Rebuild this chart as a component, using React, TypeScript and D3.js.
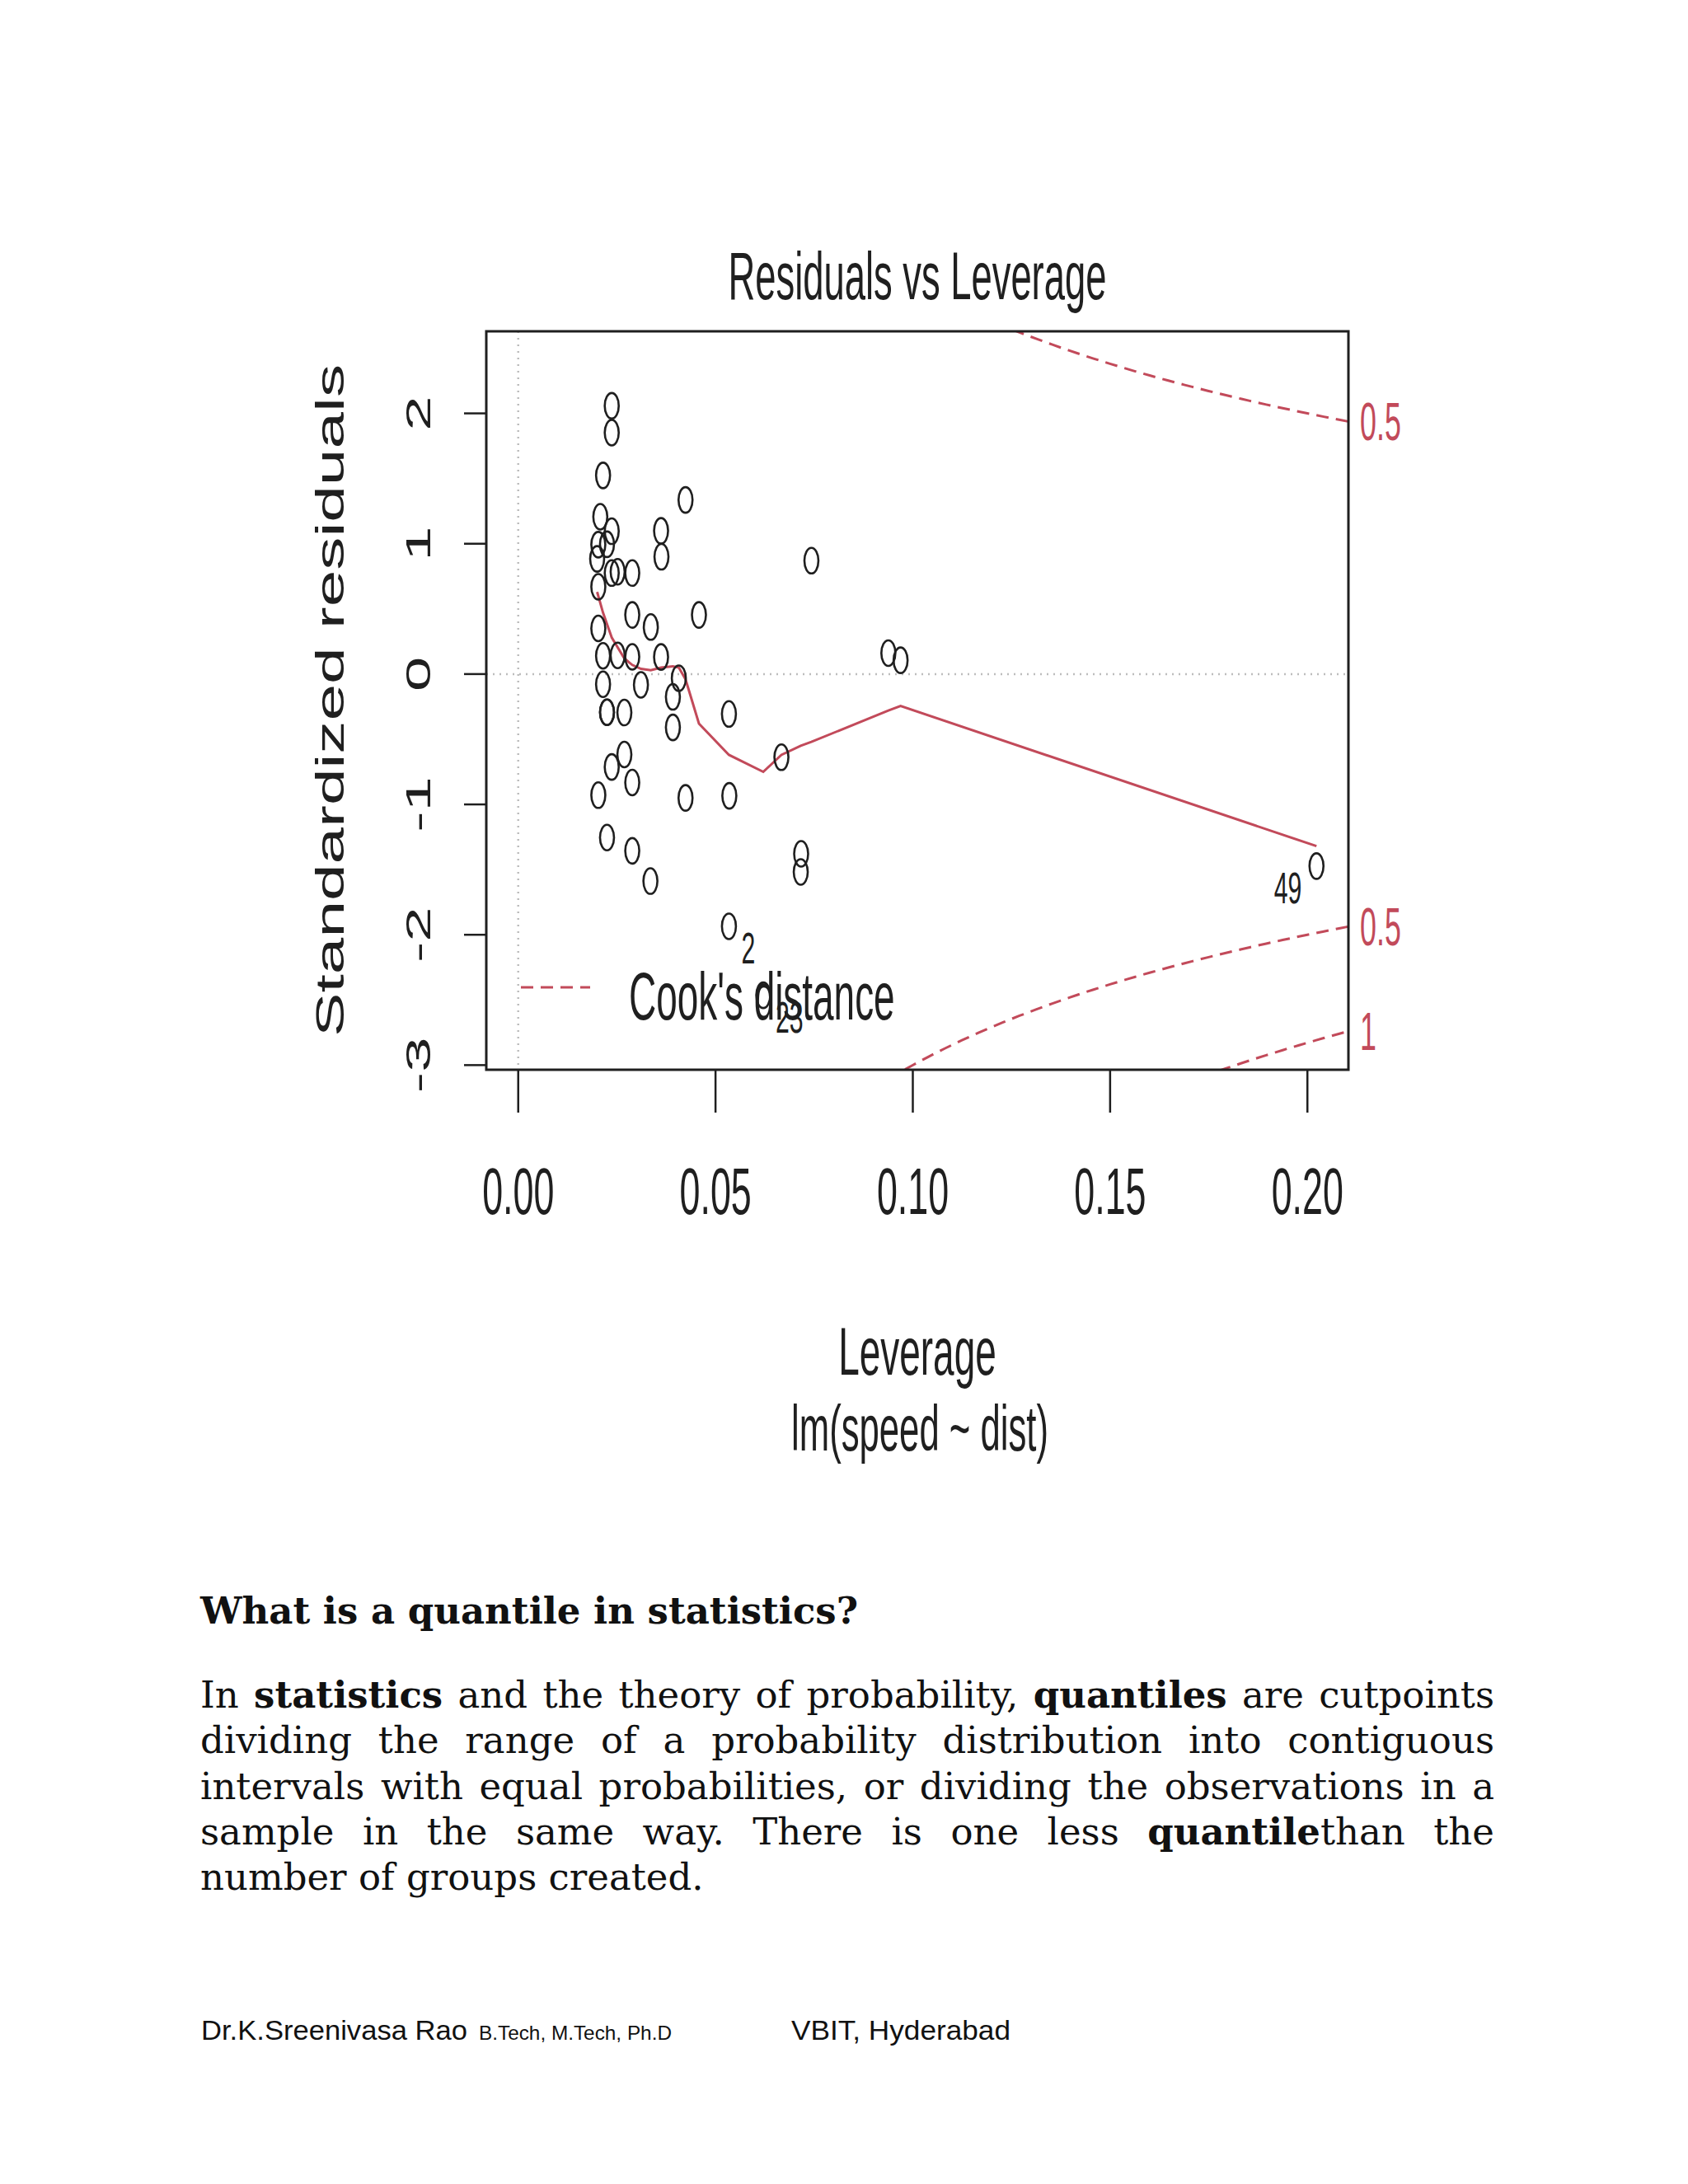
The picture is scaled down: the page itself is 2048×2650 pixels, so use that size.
import { useEffect, useRef } from "react";
import * as d3 from "d3";

// leverage (hat values) and standardized residuals, one entry per observation 1..50
const leverage = [
  0.0716, 0.0534, 0.0667, 0.0335, 0.0424, 0.0534, 0.0392, 0.0289, 0.0225, 0.0407,
  0.0269, 0.0458, 0.0362, 0.0311, 0.0269, 0.0289, 0.0225, 0.0225, 0.0203, 0.0289,
  0.0215, 0.0289, 0.0621, 0.0362, 0.0289, 0.0237, 0.0237, 0.0203, 0.0237, 0.0203,
  0.0215, 0.0200, 0.0252, 0.0535, 0.0717, 0.0215, 0.0203, 0.0392, 0.0237, 0.0208,
  0.0225, 0.0252, 0.0336, 0.0363, 0.0237, 0.0424, 0.0938, 0.0969, 0.2023, 0.0743,
];
const stdResid = [
  -1.518, -1.935, -0.638, -1.588, -0.95, -0.306, -0.409, -0.832, -1.254, -0.032,
  -0.617, 0.454, 0.131, -0.083, -0.295, 0.132, -0.293, -0.293, -0.929, 0.454,
  -0.078, -1.356, -2.464, 1.099, 0.775, -0.713, 0.775, 0.35, 1.096, 0.67,
  0.14, 0.884, 0.143, -0.934, -1.379, 1.524, 0.993, -0.175, 2.058, 1.207,
  0.996, 0.785, 0.361, 0.9, 1.852, 1.336, 0.161, 0.106, -1.473, 0.87,
];
const labelledIds = [49, 23, 2];

// red smoother
const smoothLeverage = [
  0.02, 0.0215, 0.0237, 0.0269, 0.0289, 0.0311, 0.0336, 0.0362, 0.0392, 0.0407,
  0.0424, 0.0458, 0.0534, 0.0621, 0.0667, 0.0716, 0.0743, 0.0938, 0.0969, 0.2023,
];
const smoothResid = [
  0.63, 0.47, 0.28, 0.12, 0.07, 0.04, 0.03, 0.05, 0.06, 0.05,
  -0.04, -0.38, -0.62, -0.75, -0.62, -0.55, -0.52, -0.28, -0.245, -1.32,
];

const cookLevels = [0.5, 1];
const modelRank = 2;
const xTicks = [0, 0.05, 0.1, 0.15, 0.2];
const yTicks = [-3, -2, -1, 0, 1, 2];

const W = 2048;
const H = 2650;
const PLOT = { left: 590, right: 1636, top: 402, bottom: 1298 };
const SX = 0.56; // the chart picture is squeezed horizontally
const INK = "#1f1f1f";
const RED = "#c24a5a";
const SANS = "'Liberation Sans', Arial, Helvetica, sans-serif";
const SERIF = "'DejaVu Serif', Georgia, serif";

const headingText = "What is a quantile in statistics?";
const paragraphLines = [
  [
    { t: "In " },
    { t: "statistics", b: true },
    { t: " and the theory of probability, " },
    { t: "quantiles", b: true },
    { t: " are cutpoints" },
  ],
  [{ t: "dividing the range of a probability distribution into contiguous" }],
  [{ t: "intervals with equal probabilities, or dividing the observations in a" }],
  [{ t: "sample in the same way. There is one less " }, { t: "quantile", b: true }, { t: "than the" }],
  [{ t: "number of groups created." }],
];

function Squished({
  x, y, size, anchor = "start", fill = INK, rotate = false, textLength, children,
}: {
  x: number; y: number; size: number; anchor?: string; fill?: string;
  rotate?: boolean; textLength?: number; children: React.ReactNode;
}) {
  return (
    <text
      transform={`translate(${x},${y}) scale(${SX},1)${rotate ? " rotate(-90)" : ""}`}
      fontSize={size}
      textAnchor={anchor}
      fill={fill}
      fontFamily={SANS}
      textLength={textLength}
      lengthAdjust={textLength ? "spacingAndGlyphs" : undefined}
    >
      {children}
    </text>
  );
}

function JustifiedLine({
  parts, x, y, width, justify,
}: {
  parts: { t: string; b?: boolean }[]; x: number; y: number; width: number; justify: boolean;
}) {
  const ref = useRef<SVGTextElement>(null);
  useEffect(() => {
    const adjust = () => {
      const el = ref.current;
      if (!el || !justify) return;
      el.style.wordSpacing = "0px";
      const natural = el.getComputedTextLength();
      const spaces = (parts.map((p) => p.t).join("").match(/ /g) || []).length;
      if (spaces > 0) el.style.wordSpacing = `${(width - natural) / spaces}px`;
    };
    adjust();
    if (document.fonts) document.fonts.ready.then(adjust);
  }, [parts, width, justify]);

  return (
    <text ref={ref} x={x} y={y} fontFamily={SERIF} fontSize={45} fill="#111">
      {parts.map((p, i) => (
        <tspan key={i} fontWeight={p.b ? "bold" : "normal"}>{p.t}</tspan>
      ))}
    </text>
  );
}

export default function App() {
  const hMax = d3.max(leverage) as number;
  const xPad = hMax * 0.04;
  const x = d3.scaleLinear().domain([-xPad, hMax + xPad]).range([PLOT.left, PLOT.right]);

  const [rLo, rHi] = d3.extent(stdResid) as [number, number];
  const ext = (rHi - rLo) * 0.08;
  const yPad = (rHi - rLo + 2 * ext) * 0.04;
  const y = d3
    .scaleLinear()
    .domain([rLo - ext - yPad, rHi + ext + yPad])
    .range([PLOT.bottom, PLOT.top]);

  // Cook's distance contours
  const hStart = Math.min(d3.min(leverage) as number, hMax / 100);
  const hEnd = x.domain()[1];
  const hh = d3.range(101).map((i) => hStart + ((hEnd - hStart) * i) / 100);
  const line = d3
    .line<[number, number]>()
    .x((d) => x(d[0]))
    .y((d) => y(d[1]));
  const cookPaths = cookLevels.flatMap((lv) =>
    [1, -1].map((s) =>
      line(hh.map((h) => [h, s * Math.sqrt((lv * modelRank * (1 - h)) / h)] as [number, number]))
    )
  );
  const xmax = Math.min(0.99, hEnd);
  const ymult = Math.sqrt((modelRank * (1 - xmax)) / xmax);
  const [yLo, yHi] = y.domain();
  const cookLabels = cookLevels
    .flatMap((lv) => [
      { v: Math.sqrt(lv) * ymult, lab: String(lv) },
      { v: -Math.sqrt(lv) * ymult, lab: String(lv) },
    ])
    .filter((d) => d.v >= yLo && d.v <= yHi);

  const smoothPath = line(smoothLeverage.map((h, i) => [h, smoothResid[i]] as [number, number]));

  return (
    <svg
      width={W}
      height={H}
      viewBox={`0 0 ${W} ${H}`}
      style={{ position: "absolute", left: 0, top: 0, background: "#fff" }}
    >
      <defs>
        <clipPath id="plotClip">
          <rect x={PLOT.left} y={PLOT.top} width={PLOT.right - PLOT.left} height={PLOT.bottom - PLOT.top} />
        </clipPath>
      </defs>
      <rect width={W} height={H} fill="#fff" />

      {/* title */}
      <Squished x={(PLOT.left + PLOT.right) / 2} y={363} size={81} anchor="middle">
        Residuals vs Leverage
      </Squished>

      {/* reference lines */}
      <g stroke="#bdbdbd" strokeWidth={2.5} strokeDasharray="2,6">
        <line x1={x(0)} x2={x(0)} y1={PLOT.top} y2={PLOT.bottom} />
        <line x1={PLOT.left} x2={PLOT.right} y1={y(0)} y2={y(0)} />
      </g>

      <g clipPath="url(#plotClip)" fill="none">
        {cookPaths.map((d, i) => (
          <path key={i} d={d ?? ""} stroke={RED} strokeWidth={3} strokeDasharray="15,9" />
        ))}
        <path d={smoothPath ?? ""} stroke={RED} strokeWidth={3} />
      </g>

      {/* points */}
      <g fill="none" stroke={INK} strokeWidth={2.6}>
        {leverage.map((h, i) => (
          <ellipse key={i} cx={x(h)} cy={y(stdResid[i])} rx={8.5} ry={15.5} />
        ))}
      </g>

      {/* point ids */}
      {labelledIds.map((id) => {
        const px = x(leverage[id - 1]);
        const py = y(stdResid[id - 1]);
        const right = leverage[id - 1] <= (x.domain()[0] + x.domain()[1]) / 2;
        return (
          <Squished key={id} x={right ? px + 15 : px - 18} y={py + 45} size={54} anchor={right ? "start" : "end"}>
            {String(id)}
          </Squished>
        );
      })}

      {/* legend */}
      <line x1={632} x2={716} y1={1198} y2={1198} stroke={RED} strokeWidth={3} strokeDasharray="15,9" />
      <Squished x={763} y={1237} size={82}>Cook's distance</Squished>

      {/* box */}
      <rect
        x={PLOT.left}
        y={PLOT.top}
        width={PLOT.right - PLOT.left}
        height={PLOT.bottom - PLOT.top}
        fill="none"
        stroke={INK}
        strokeWidth={3}
      />

      {/* x axis */}
      {xTicks.map((t) => (
        <g key={t}>
          <line x1={x(t)} x2={x(t)} y1={PLOT.bottom} y2={PLOT.bottom + 52} stroke={INK} strokeWidth={2.5} />
          <Squished x={x(t)} y={1473} size={80} anchor="middle">
            {d3.format(".2f")(t)}
          </Squished>
        </g>
      ))}

      {/* y axis */}
      {yTicks.map((t) => (
        <g key={t}>
          <line x1={PLOT.left - 27} x2={PLOT.left} y1={y(t)} y2={y(t)} stroke={INK} strokeWidth={2.5} />
          <Squished x={522} y={y(t)} size={76} anchor="middle" rotate>
            {String(t)}
          </Squished>
        </g>
      ))}

      {/* Cook's distance labels on the right */}
      {cookLabels.map((d, i) => (
        <Squished key={i} x={PLOT.right + 14} y={y(d.v) + 23} size={64} fill={RED}>
          {d.lab}
        </Squished>
      ))}

      {/* axis titles */}
      <Squished x={417} y={(PLOT.top + PLOT.bottom) / 2} size={86} anchor="middle" rotate textLength={816}>
        Standardized residuals
      </Squished>
      <Squished x={(PLOT.left + PLOT.right) / 2} y={1668} size={82} anchor="middle">
        Leverage
      </Squished>
      <Squished x={(PLOT.left + PLOT.right) / 2 + 3} y={1760} size={78} anchor="middle">
        lm(speed ~ dist)
      </Squished>

      {/* document text */}
      <text x={243} y={1970} fontFamily={SERIF} fontSize={45} fontWeight="bold" fill="#111">
        {headingText}
      </text>
      {paragraphLines.map((parts, i) => (
        <JustifiedLine
          key={i}
          parts={parts}
          x={243}
          y={2072 + i * 55.3}
          width={1570}
          justify={i < paragraphLines.length - 1}
        />
      ))}

      {/* footer */}
      <text y={2475} fontFamily={SANS} fill="#111">
        <tspan x={244} fontSize={34} textLength={323} lengthAdjust="spacingAndGlyphs">Dr.K.Sreenivasa Rao</tspan>
        <tspan x={581} fontSize={24} textLength={234} lengthAdjust="spacingAndGlyphs">B.Tech, M.Tech, Ph.D</tspan>
        <tspan x={960} fontSize={34} textLength={266} lengthAdjust="spacingAndGlyphs">VBIT, Hyderabad</tspan>
      </text>
    </svg>
  );
}
